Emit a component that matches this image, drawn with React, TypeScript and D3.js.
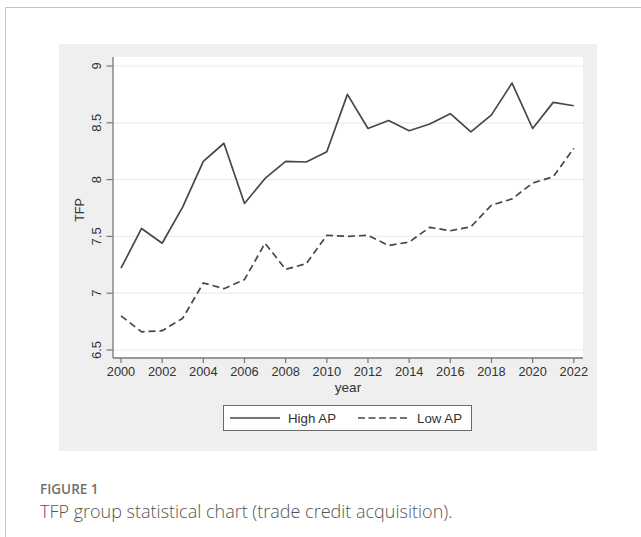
import React from "react";
import * as d3 from "d3";

// Yearly TFP means for firms with high vs low trade-credit (AP) acquisition
const years: number[] = d3.range(2000, 2023);
const highAP: number[] = [
  7.22, 7.57, 7.44, 7.76, 8.16, 8.32, 7.79, 8.01, 8.16, 8.155, 8.245, 8.75,
  8.45, 8.52, 8.43, 8.49, 8.58, 8.42, 8.57, 8.85, 8.45, 8.68, 8.65,
];
const lowAP: number[] = [
  6.8, 6.66, 6.67, 6.78, 7.09, 7.04, 7.12, 7.44, 7.21, 7.26, 7.51, 7.5, 7.51,
  7.42, 7.45, 7.58, 7.55, 7.585, 7.775, 7.83, 7.97, 8.025, 8.275,
];
const yTicks: number[] = [6.5, 7, 7.5, 8, 8.5, 9];
const xTicks: number[] = d3.range(2000, 2023, 2);
const seriesNames: string[] = ["High AP", "Low AP"];

const W = 641;
const H = 537;
const panel = { x0: 59, y0: 44, x1: 597, y1: 451 };
const plot = { left: 113, right: 583, top: 57, bottom: 358 };

const FONT = "'Liberation Sans', Arial, sans-serif";
const CAPTION_FONT = "'Open Sans', 'Noto Sans', sans-serif";
const INK = "#333";
const LINE = "#474747";

export default function App() {
  const x = d3.scaleLinear().domain([2000, 2022]).range([121, 573.8]);
  const y = d3.scaleLinear().domain([6.5, 9]).range([350, 66]);

  const line = d3
    .line<number>()
    .x((_, i) => x(years[i]))
    .y((d) => y(d));

  return (
    <div style={{ position: "absolute", left: 0, top: 0 }}>
      <svg width={W} height={H} style={{ display: "block" }}>
        <rect x={0} y={0} width={W} height={H} fill="#fff" />
        {/* card frame */}
        <line x1={5.5} y1={7.5} x2={W} y2={7.5} stroke="#c4c4c4" strokeWidth={1} />
        <line x1={5.5} y1={7.5} x2={5.5} y2={H} stroke="#c4c4c4" strokeWidth={1} />

        {/* figure background */}
        <rect
          x={panel.x0}
          y={panel.y0}
          width={panel.x1 - panel.x0}
          height={panel.y1 - panel.y0}
          fill="#efefef"
        />
        <rect
          x={plot.left}
          y={plot.top}
          width={plot.right - plot.left}
          height={plot.bottom - plot.top}
          fill="#fff"
        />

        {/* gridlines */}
        {yTicks.map((t) => (
          <line
            key={"g" + t}
            x1={plot.left}
            x2={plot.right}
            y1={y(t)}
            y2={y(t)}
            stroke="#ececec"
            strokeWidth={1.2}
          />
        ))}

        {/* y axis */}
        <line x1={plot.left} x2={plot.left} y1={plot.top} y2={plot.bottom} stroke="#777" strokeWidth={1.3} />
        {yTicks.map((t) => (
          <g key={"y" + t}>
            <line x1={106.5} x2={plot.left} y1={y(t)} y2={y(t)} stroke="#777" strokeWidth={1.2} />
            <text
              transform={`translate(${100.5},${y(t)}) rotate(-90)`}
              textAnchor="middle"
              fontFamily={FONT}
              fontSize={13}
              fill={INK}
            >
              {t}
            </text>
          </g>
        ))}
        <text
          transform={`translate(${84},${210}) rotate(-90)`}
          textAnchor="middle"
          fontFamily={FONT}
          fontSize={12.5}
          fill={INK}
        >
          TFP
        </text>

        {/* x axis */}
        <line x1={plot.left} x2={plot.right} y1={plot.bottom} y2={plot.bottom} stroke="#777" strokeWidth={1.3} />
        {xTicks.map((t) => (
          <g key={"x" + t}>
            <line x1={x(t)} x2={x(t)} y1={plot.bottom} y2={plot.bottom + 5} stroke="#777" strokeWidth={1.2} />
            <text
              x={x(t)}
              y={376}
              textAnchor="middle"
              fontFamily={FONT}
              fontSize={12.8}
              fill={INK}
            >
              {t}
            </text>
          </g>
        ))}
        <text x={348} y={391.5} textAnchor="middle" fontFamily={FONT} fontSize={13.5} fill={INK}>
          year
        </text>

        {/* series */}
        <path d={line(highAP) ?? ""} fill="none" stroke={LINE} strokeWidth={1.7} strokeLinejoin="round" />
        <path
          d={line(lowAP) ?? ""}
          fill="none"
          stroke={LINE}
          strokeWidth={1.7}
          strokeDasharray="7 4"
          strokeLinejoin="round"
        />

        {/* legend */}
        <rect x={223.5} y={405.5} width={248} height={25} fill="#fff" stroke="#6a6a6a" strokeWidth={1} />
        <line x1={230} x2={280} y1={418} y2={418} stroke={LINE} strokeWidth={1.4} />
        <text x={288} y={423} fontFamily={FONT} fontSize={13.3} fill={INK}>
          {seriesNames[0]}
        </text>
        <line x1={358} x2={410} y1={418} y2={418} stroke={LINE} strokeWidth={1.4} strokeDasharray="7 3.5" />
        <text x={417} y={423} fontFamily={FONT} fontSize={13.3} fill={INK}>
          {seriesNames[1]}
        </text>

        {/* caption */}
        <text x={40} y={494} fontFamily={CAPTION_FONT} fontSize={13.5} fontWeight={600} fill="#707070">
          FIGURE 1
        </text>
        <text x={40} y={518} fontFamily={CAPTION_FONT} fontSize={18} fontWeight={300} fill="#555">
          TFP group statistical chart (trade credit acquisition).
        </text>
      </svg>
    </div>
  );
}
